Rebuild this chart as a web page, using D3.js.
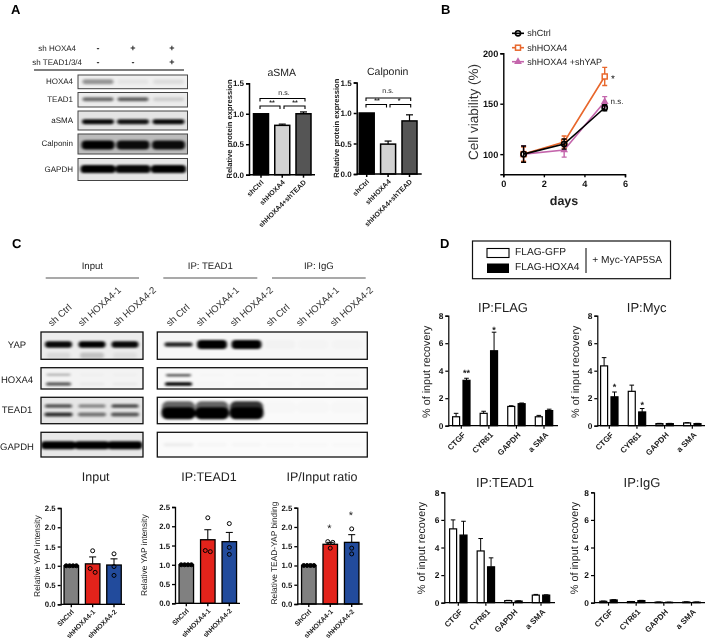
<!DOCTYPE html>
<html><head><meta charset="utf-8">
<script src="https://cdn.jsdelivr.net/npm/d3@7/dist/d3.min.js"></script>
<style>html,body{margin:0;padding:0;background:#fff}svg{display:block;filter:blur(0.35px)}text{font-family:"Liberation Sans",Arial,sans-serif;text-rendering:geometricPrecision}</style>
</head><body><div id="c"></div>
<script>
// ---------- DATA ----------
const groupsA = ["shCtrl","shHOXA4","shHOXA4+shTEAD"];
const asmaValues = [1.0,0.81,1.0];
const asmaErrTop = [1.0,0.83,1.03];
const calponinValues = [1.0,0.49,0.87];
const calponinErrTop = [1.0,0.54,0.97];

const days = [1,3,5];
const viabilityCtrl = [100,110,146];
const viabilityCtrlErr = [8,5,3];
const viabilityHoxa = [100,112,177];
const viabilityHoxaErr = [7,6,9];
const viabilityYap = [100,104,152];
const viabilityYapErr = [8,7,5];
const viabilityNames = ["shCtrl","shHOXA4","shHOXA4 +shYAP"];

const groupsC = ["ShCtrl","shHOXA4-1","shHOXA4-2"];
const inputValues = [1.0,1.05,1.02];
const inputErrTop = [1.0,1.23,1.18];
const inputPoints = [[1,1,1,1],[1.39,0.93,0.83],[1.31,0.98,0.75]];
const ipTeadValues = [1.0,1.65,1.6];
const ipTeadErrTop = [1.0,1.91,1.84];
const ipTeadPoints = [[1,1,1,1],[2.22,1.34,1.37],[2.07,1.45,1.27]];
const ratioValues = [1.0,1.55,1.6];
const ratioErrTop = [1.0,1.6,1.8];
const ratioPoints = [[1,1,1,1],[1.62,1.6,1.45],[1.95,1.45,1.3]];

const genes = ["CTGF","CYR61","GAPDH","a SMA"];
const flagGfp = [0.65,0.9,1.4,0.65];
const flagGfpErr = [0.9,1.05,1.45,0.75];
const flagHox = [3.3,5.45,1.6,1.1];
const flagHoxErr = [3.45,6.8,1.65,1.2];
const mycGfp = [4.35,2.5,0.15,0.2];
const mycGfpErr = [4.95,2.95,0.17,0.22];
const mycHox = [2.1,1.0,0.15,0.15];
const mycHoxErr = [2.45,1.25,0.17,0.17];
const teadGfp = [5.35,3.75,0.15,0.55];
const teadGfpErr = [6.0,4.65,0.17,0.6];
const teadHox = [4.9,2.6,0.12,0.55];
const teadHoxErr = [5.9,3.25,0.14,0.57];
const iggGfp = [0.1,0.08,0.04,0.05];
const iggGfpErr = [0.12,0.09,0.05,0.06];
const iggHox = [0.2,0.15,0.03,0.04];
const iggHoxErr = [0.22,0.17,0.04,0.05];

// western blot band darkness per lane
const lanesA = ["ctrl","hoxa","both"];
const bandHoxa4A = [0.38,0.05,0.08];
const bandTead1A = [0.55,0.6,0.13];
const bandAsmaA = [0.97,0.92,0.97];
const bandCalponinA = [1,0.95,0.95];
const bandGapdhA = [1,0.97,1];

const lanesInput = ["sh Ctrl","sh HOXA4-1","sh HOXA4-2"];
const lanesIp = ["sh Ctrl","sh HOXA4-1","sh HOXA4-2","sh Ctrl","sh HOXA4-1","sh HOXA4-2"];
const yapInput = [0.97,1,0.97];
const yapInputSmear = [0.08,0.18,0.06];
const hoxaInputUpper = [0.25,0.02,0.02];
const hoxaInputLower = [0.62,0.03,0.03];
const teadInputUpper = [0.65,0.42,0.68];
const teadInputLower = [0.8,0.5,0.62];
const gapdhInput = [1,1,1];
const yapIpThin = [0.85,0,0,0,0,0];
const yapIpFull = [0,1,1,0.02,0.01,0.01];
const hoxaIpUpper = [0.65,0.01,0.01,0.01,0.01,0.01];
const hoxaIpLower = [1,0.01,0.01,0.01,0.01,0.01];
const teadIpHalo = [0.6,0.6,0.8,0.01,0.01,0.01];
const teadIpCore = [1,1,1,0,0,0];
const gapdhIp = [0.05,0.02,0.02,0.01,0.01,0.01];

// ---------- DRAWING ----------
const svg = d3.select("#c").append("svg").attr("width",709).attr("height",644).attr("viewBox","0 0 709 644");
const defs = svg.append("defs");
defs.append("filter").attr("id","blur").attr("x","-30%").attr("y","-100%").attr("width","160%").attr("height","300%")
  .append("feGaussianBlur").attr("stdDeviation","1.6 1.1");
let clipId = 0;
const txt = "#222";

function label(x,y,s,size,opt={}){
  const t = svg.append("text").attr("x",x).attr("y",y).text(s).attr("font-size",size)
    .attr("fill",opt.fill||txt).attr("text-anchor",opt.anchor||"middle").attr("dominant-baseline","central");
  if(opt.bold) t.attr("font-weight","bold");
  if(opt.rot!=null) t.attr("transform",`rotate(${opt.rot} ${x} ${y})`);
  return t;
}
function hline(x1,x2,y,w,c){svg.append("line").attr("x1",x1).attr("x2",x2).attr("y1",y).attr("y2",y).attr("stroke",c||"#000").attr("stroke-width",w);}

function blot(box,lanes,centers,bands,bg,borderW){
  const id="cp"+(clipId++);
  defs.append("clipPath").attr("id",id).append("rect").attr("x",box[0]).attr("y",box[1]).attr("width",box[2]-box[0]).attr("height",box[3]-box[1]);
  const x = d3.scaleOrdinal().domain(d3.range(lanes.length)).range(centers);
  const y = d3.scaleLinear().domain([0,1]).range([box[1],box[3]]);
  const g = svg.append("g").attr("clip-path",`url(#${id})`);
  g.append("rect").attr("x",box[0]).attr("y",box[1]).attr("width",box[2]-box[0]).attr("height",box[3]-box[1]).attr("fill",bg||"#f5f5f5");
  bands.forEach(b=>{
    g.append("g").attr("filter","url(#blur)").selectAll("rect").data(b.values).join("rect")
      .attr("x",(d,i)=>x(i)-b.w/2).attr("width",b.w)
      .attr("y",y(b.f)-b.h/2).attr("height",b.h)
      .attr("rx",b.h/2.2).attr("fill","#000").attr("opacity",d=>d);
  });
  svg.append("rect").attr("x",box[0]).attr("y",box[1]).attr("width",box[2]-box[0]).attr("height",box[3]-box[1])
    .attr("fill","none").attr("stroke",borderW>1?"#111":"#444").attr("stroke-width",borderW||1);
}

function axisY(g,y,x0,ticks,fmt,size,w){
  const a = g.append("g").attr("transform",`translate(${x0},0)`)
    .call(d3.axisLeft(y).tickValues(ticks).tickFormat(fmt).tickSize(3).tickPadding(2));
  a.selectAll("text").attr("font-size",size).attr("font-weight","bold").attr("fill","#111").attr("font-family",'"Liberation Sans",Arial,sans-serif');
  a.selectAll("line,path").attr("stroke","#000").attr("stroke-width",w);
  return a;
}

function barPanel(p){
  const g = svg.append("g");
  const y = d3.scaleLinear().domain([0,2.5]).range([p.y0,p.y1]);
  if(p.max) y.domain([0,p.max]);
  const x = d3.scalePoint().domain(p.names).range([p.c0,p.c1]);
  axisY(g,y,p.ax,p.ticks,d3.format(".1f"),p.fs,p.lw);
  g.selectAll(".b").data(p.values).join("rect")
    .attr("x",(d,i)=>x(p.names[i])-p.bw/2).attr("width",p.bw)
    .attr("y",d=>y(d)).attr("height",d=>y(0)-y(d))
    .attr("fill",(d,i)=>p.colors[i]).attr("stroke","#000").attr("stroke-width",p.lw);
  p.err.forEach((e,i)=>{
    if(e<=p.values[i]) return;
    const cx=x(p.names[i]);
    g.append("line").attr("x1",cx).attr("x2",cx).attr("y1",y(p.values[i])).attr("y2",y(e)).attr("stroke","#000").attr("stroke-width",p.lw*0.8);
    g.append("line").attr("x1",cx-p.cap).attr("x2",cx+p.cap).attr("y1",y(e)).attr("y2",y(e)).attr("stroke","#000").attr("stroke-width",p.lw*0.8);
  });
  if(p.points) p.points.forEach((vals,i)=>{
    const s=[...vals].sort((a,b)=>b-a); const cl=[]; 
    s.forEach(v=>{const l=cl[cl.length-1]; if(l&&l[l.length-1]-v<0.12) l.push(v); else cl.push([v]);});
    cl.forEach(c=>c.forEach((v,k)=>{
      g.append("circle").attr("cx",x(p.names[i])+(k-(c.length-1)/2)*(c.length>3?3.4:5)).attr("cy",y(v)).attr("r",p.r)
        .attr("fill",c.length>3?"#000":"none").attr("stroke","#000").attr("stroke-width",1);
    }));
  });
  const xa = g.append("g").attr("transform",`translate(0,${p.y0})`);
  xa.append("line").attr("x1",p.ax).attr("x2",p.xEnd).attr("stroke","#000").attr("stroke-width",p.lw);
  p.names.forEach(n=>{
    xa.append("line").attr("x1",x(n)).attr("x2",x(n)).attr("y1",0).attr("y2",3).attr("stroke","#000").attr("stroke-width",p.lw);
  });
  p.names.forEach(n=>{
    const tx=x(n)+2, ty=p.y0+7;
    svg.append("text").attr("x",tx).attr("y",ty).attr("text-anchor","end").attr("dominant-baseline","central")
      .attr("transform",`rotate(-45 ${tx} ${ty})`).attr("font-size",p.xfs).attr("font-weight","bold").attr("fill","#222").text(n);
  });
  label(p.yl,(p.ylc||(p.y0+p.y1)/2),p.ylabel,p.yfs,{rot:-90,bold:p.ybold});
  label(p.tx,p.ty,p.title,p.tfs);
}

function dualPanel(p){
  const g = svg.append("g");
  const y = d3.scaleLinear().domain([0,8]).range([p.y0,p.y1]);
  const x = d3.scalePoint().domain(genes).range([p.c0,p.c1]);
  const off = 5.2, bw = 7;
  axisY(g,y,p.ax,[0,2,4,6,8],d3.format("d"),8.4,1.2);
  [[p.gfp,p.gfpE,-off,"#fff"],[p.hox,p.hoxE,off,"#000"]].forEach(([v,e,o,c])=>{
    g.selectAll(null).data(v).join("rect")
      .attr("x",(d,i)=>x(genes[i])+o-bw/2).attr("width",bw)
      .attr("y",d=>y(d)).attr("height",d=>y(0)-y(d))
      .attr("fill",(d,i)=>(p.grayAt&&p.grayAt.includes(i)&&o<0)?"#777":c).attr("stroke","#000").attr("stroke-width",1.2);
    e.forEach((t,i)=>{
      const cx=x(genes[i])+o;
      g.append("line").attr("x1",cx).attr("x2",cx).attr("y1",y(v[i])).attr("y2",y(t)).attr("stroke","#000").attr("stroke-width",1);
      g.append("line").attr("x1",cx-2.3).attr("x2",cx+2.3).attr("y1",y(t)).attr("y2",y(t)).attr("stroke","#000").attr("stroke-width",1);
    });
  });
  const xa=g.append("g").attr("transform",`translate(0,${p.y0})`);
  xa.append("line").attr("x1",p.ax).attr("x2",p.xEnd).attr("stroke","#000").attr("stroke-width",1.2);
  genes.forEach(n=>{
    xa.append("line").attr("x1",x(n)).attr("x2",x(n)).attr("y1",0).attr("y2",3).attr("stroke","#000").attr("stroke-width",1.2);
    const tx=x(n)+3, ty=p.y0+8;
    svg.append("text").attr("x",tx).attr("y",ty).attr("text-anchor","end").attr("dominant-baseline","central")
      .attr("transform",`rotate(-45 ${tx} ${ty})`).attr("font-size",8).attr("font-weight","bold").attr("fill","#222").text(n);
  });
  label(p.yl,p.ylc,"% of input recovery",10.8,{rot:-90});
  label(p.tx,p.ty,p.title,p.tfs||13);
  (p.stars||[]).forEach(s=>label(x(genes[s[0]])+s[1]*off,y(s[2])+1.5,s[3],9,{bold:true}));
}

function bracket(x1,x2,y,drop){
  svg.append("path").attr("d",`M${x1},${y+drop}V${y}H${x2}V${y+drop}`).attr("fill","none").attr("stroke","#000").attr("stroke-width",1.1);
}

// Panel letters
[["A",11,9.5],["B",441,9.5],["C",12,243.5],["D",440,243.5]].forEach(d=>label(d[1],d[2],d[0],13,{bold:true,anchor:"start",fill:"#000"}));

// ---- Panel A blots ----
label(76,48,"sh HOXA4",8,{anchor:"end"});
label(82,62,"sh TEAD1/3/4",8,{anchor:"end"});
[[98,48,"-"],[133,48,"+"],[172,48,"+"],[98,62,"-"],[133,62,"-"],[172,62,"+"]].forEach(d=>label(d[0],d[1],d[2],9,{bold:true}));
hline(34,184,70,1.2);
const cA=[98,133,168.5];
const rowsA=[["HOXA4",[78,75,187.5,88.7]],["TEAD1",[78,92.5,187.5,107]],["aSMA",[78,111,187.5,130]],["Calponin",[78,134,187.5,154]],["GAPDH",[78,158.5,187.5,180.5]]];
rowsA.forEach(r=>label(73,(r[1][1]+r[1][3])/2-0.5,r[0],8,{anchor:"end"}));
blot(rowsA[0][1],lanesA,cA,[{f:.5,h:5,w:31,values:bandHoxa4A}],"#f0f0f0");
blot(rowsA[1][1],lanesA,cA,[{f:.46,h:4,w:31,values:bandTead1A}],"#ececec");
blot(rowsA[2][1],lanesA,cA,[{f:.56,h:5,w:32,values:bandAsmaA}],"#e4e4e4");
blot(rowsA[3][1],lanesA,cA,[{f:.55,h:9,w:33,values:bandCalponinA}],"#bcbcbc");
blot(rowsA[4][1],lanesA,cA,[{f:.48,h:8,w:35,values:bandGapdhA}],"#e6e6e6");

// ---- Panel A bars ----
const colorsA=["#000","#d2d2d2","#555"];
barPanel({names:groupsA,values:asmaValues,err:asmaErrTop,colors:colorsA,max:1.5,ticks:[0,0.5,1,1.5],y0:174.7,y1:83.3,ax:249,xEnd:315,c0:261,c1:303.5,bw:15,lw:1.5,cap:3.5,fs:8,xfs:7,yl:229.5,ylabel:"Relative protein expression",yfs:7.6,ybold:true,tx:281.7,ty:72.5,title:"aSMA",tfs:10.5});
barPanel({names:groupsA,values:calponinValues,err:calponinErrTop,colors:colorsA,max:1.5,ticks:[0,0.5,1,1.5],y0:174,y1:82.5,ax:356.7,xEnd:421.7,c0:366.7,c1:409.5,bw:15,lw:1.5,cap:3.5,fs:8,xfs:7,yl:336,ylabel:"Relative protein expression",yfs:7.6,ybold:true,tx:387.7,ty:72,title:"Calponin",tfs:10.5});
bracket(260,305,98.5,3); bracket(260,280,106,3); bracket(284,305,106,3);
label(284,93,"n.s.",7); label(272,103,"**",7,{bold:true}); label(295,103,"**",7,{bold:true});
bracket(366,410.7,98,3); bracket(366,386.5,104.5,3); bracket(390,410.7,104.5,3);
label(388,91.5,"n.s.",7); label(377,101.5,"**",7,{bold:true}); label(399,101.5,"*",7,{bold:true});

// ---- Panel B ----
(function(){
  const x=d3.scaleLinear().domain([0,6]).range([503.3,625]);
  const y=d3.scaleLinear().domain([80,200]).range([174.3,53.3]);
  const g=svg.append("g");
  axisY(g,y,503.3,[100,150,200],d3.format("d"),9.2,1.4);
  const xa=g.append("g").attr("transform","translate(0,174.3)").call(d3.axisBottom(x).tickValues([0,2,4,6]).tickSize(3).tickPadding(3).tickFormat(d3.format("d")));
  xa.selectAll("text").attr("font-size",9.2).attr("font-weight","bold").attr("fill","#111").attr("font-family",'"Liberation Sans",Arial,sans-serif');
  xa.selectAll("line,path").attr("stroke","#000").attr("stroke-width",1.4);
  const line=d3.line().x((d,i)=>x(days[i])).y(d=>y(d));
  const series=[[viabilityYap,viabilityYapErr,"#c466ac","tri"],[viabilityHoxa,viabilityHoxaErr,"#e8672c","sq"],[viabilityCtrl,viabilityCtrlErr,"#000","cir"]];
  function marker(sel,cx,cy,kind,c){
    if(kind==="cir") sel.append("circle").attr("cx",cx).attr("cy",cy).attr("r",2.6).attr("fill","none").attr("stroke",c).attr("stroke-width",1.6);
    else if(kind==="sq") sel.append("rect").attr("x",cx-2.5).attr("y",cy-2.5).attr("width",5).attr("height",5).attr("fill","#fff").attr("stroke",c).attr("stroke-width",1.5);
    else sel.append("path").attr("d",d3.symbol(d3.symbolTriangle,26)()).attr("transform",`translate(${cx},${cy})`).attr("fill",c);
  }
  series.forEach(([v,e,c,k])=>{
    g.append("path").attr("d",line(v)).attr("fill","none").attr("stroke",c).attr("stroke-width",1.6);
    v.forEach((d,i)=>{
      const cx=x(days[i]);
      g.append("path").attr("d",`M${cx-2.5},${y(d+e[i])}H${cx+2.5}M${cx},${y(d+e[i])}V${y(d-e[i])}M${cx-2.5},${y(d-e[i])}H${cx+2.5}`).attr("fill","none").attr("stroke",c).attr("stroke-width",1.4);
      marker(g,cx,y(d),k,c);
    });
  });
  label(564,201,"days",12.5,{bold:true});
  label(473,112,"Cell viability (%)",13.5,{rot:-90,fill:"#333"});
  label(613,79,"*",10);
  label(617,101.5,"n.s.",8);
  const ly=[33.3,47.7,61.7], lk=[["#000","cir"],["#e8672c","sq"],["#c466ac","tri"]];
  viabilityNames.forEach((n,i)=>{
    g.append("line").attr("x1",512).attr("x2",524).attr("y1",ly[i]).attr("y2",ly[i]).attr("stroke",lk[i][0]).attr("stroke-width",1.6);
    marker(g,518,ly[i],lk[i][1],lk[i][0]);
    label(527.3,ly[i],n,9,{anchor:"start"});
  });
})();

// ---- Panel C blots ----
[["Input",45.7,139],["IP: TEAD1",163.3,257.3],["IP: IgG",272,365.7]].forEach(d=>{
  label((d[1]+d[2])/2,266.7,d[0],9.6);
  hline(d[1],d[2],278,1.2,"#555");
});
[[50,lanesInput[0]],[80,lanesInput[1]],[115,lanesInput[2]],[168,lanesIp[0]],[198,lanesIp[1]],[232,lanesIp[2]],[268,lanesIp[3]],[298,lanesIp[4]],[332,lanesIp[5]]].forEach(d=>{
  label(d[0],325,d[1],9.6,{anchor:"start",rot:-42,fill:"#333"});
});
const rowsC=[["YAP",332,359.3,345.7],["HOXA4",367.7,389,380],["TEAD1",397.3,423.7,410],["GAPDH",432.3,457,447]];
rowsC.forEach(r=>label(17,r[3],r[0],9.5));
const cIn=[58.5,92,125], cIp=[178.5,212,246.5,280,313,347];
const boxL=r=>[41,r[1],143,r[2]], boxR=r=>[157.3,r[1],367.3,r[2]];
blot(boxL(rowsC[0]),lanesInput,cIn,[{f:.86,h:6,w:24,values:yapInputSmear},{f:.46,h:6.5,w:27,values:yapInput}],"#ededed",1.3);
blot(boxL(rowsC[1]),lanesInput,cIn,[{f:.33,h:2.5,w:24,values:hoxaInputUpper},{f:.77,h:3.5,w:25,values:hoxaInputLower}],"#f3f3f3",1.3);
blot(boxL(rowsC[2]),lanesInput,cIn,[{f:.33,h:3.5,w:27,values:teadInputUpper},{f:.65,h:4,w:28,values:teadInputLower}],"#e6e6e6",1.3);
blot(boxL(rowsC[3]),lanesInput,cIn,[{f:.52,h:8,w:35,values:gapdhInput}],"#e8e8e8",1.3);
blot(boxR(rowsC[0]),lanesIp,cIp,[{f:.46,h:4.5,w:28,values:yapIpThin},{f:.46,h:9,w:30,values:yapIpFull}],"#f7f7f7",1.3);
blot(boxR(rowsC[1]),lanesIp,cIp,[{f:.35,h:2.5,w:25,values:hoxaIpUpper},{f:.77,h:3.5,w:27,values:hoxaIpLower}],"#f8f8f8",1.3);
blot(boxR(rowsC[2]),lanesIp,cIp,[{f:.38,h:12,w:33,values:teadIpHalo},{f:.6,h:12,w:34,values:teadIpCore}],"#fafafa",1.3);
blot(boxR(rowsC[3]),lanesIp,cIp,[{f:.5,h:4,w:30,values:gapdhIp}],"#fbfbfb",1.3);

// ---- Panel C bars ----
const colorsC=["#808080","#e3231b","#224b9c"];
const cCommon={names:groupsC,colors:colorsC,ticks:[0,0.5,1,1.5,2,2.5],bw:14.5,lw:1.3,cap:3.5,fs:7.8,xfs:6.8,yfs:8.4,r:2,tfs:12.5};
barPanel({...cCommon,values:inputValues,err:inputErrTop,points:inputPoints,y0:604.3,y1:508,ax:60.7,xEnd:125,c0:71.3,c1:114,yl:37.5,ylabel:"Relative YAP intensity",tx:95.7,ty:477,title:"Input"});
barPanel({...cCommon,values:ipTeadValues,err:ipTeadErrTop,points:ipTeadPoints,y0:603.3,y1:507,ax:175,xEnd:240,c0:186.3,c1:229.3,yl:144,ylabel:"Relative YAP intensity",tx:209,ty:477,title:"IP:TEAD1"});
barPanel({...cCommon,values:ratioValues,err:ratioErrTop,points:ratioPoints,y0:604,y1:507.7,ax:297.3,xEnd:362.7,c0:308.8,c1:351.7,yl:274.3,ylabel:"Relative TEAD-YAP binding",ylc:553,tx:322,ty:477,title:"IP/Input ratio"});
label(329.5,529,"*",11); label(351,516,"*",11);

// ---- Panel D ----
svg.append("rect").attr("x",472.5).attr("y",241).attr("width",198).attr("height",37.7).attr("fill","#fff").attr("stroke","#111").attr("stroke-width",1.2);
svg.append("rect").attr("x",487).attr("y",248.5).attr("width",22).attr("height",9).attr("fill","#fff").attr("stroke","#000").attr("stroke-width",1.1);
svg.append("rect").attr("x",487).attr("y",263.5).attr("width",22).attr("height",9.5).attr("fill","#000");
label(515,252,"FLAG-GFP",10.2,{anchor:"start"});
label(515,267.7,"FLAG-HOXA4",10.2,{anchor:"start"});
svg.append("line").attr("x1",586).attr("x2",586).attr("y1",248).attr("y2",273).attr("stroke","#000").attr("stroke-width",1);
label(592.3,260,"+ Myc-YAP5SA",10.2,{anchor:"start"});

dualPanel({title:"IP:FLAG",gfp:flagGfp,gfpE:flagGfpErr,hox:flagHox,hoxE:flagHoxErr,y0:425.7,y1:315.7,ax:448.3,xEnd:558,c0:461.3,c1:544,yl:426.7,ylc:371.7,tx:503,ty:307.5,
  stars:[[0,1,3.95,"**"],[1,1,7.1,"*"]]});
dualPanel({title:"IP:Myc",gfp:mycGfp,gfpE:mycGfpErr,hox:mycHox,hoxE:mycHoxErr,y0:425.7,y1:315.7,ax:597.3,xEnd:705,c0:609.3,c1:692.3,yl:576,ylc:371.7,tx:646.7,ty:307.5,grayAt:[2],
  stars:[[0,1,2.9,"*"],[1,1,1.65,"*"]]});
dualPanel({title:"IP:TEAD1",gfp:teadGfp,gfpE:teadGfpErr,hox:teadHox,hoxE:teadHoxErr,y0:602.7,y1:492.3,ax:444.3,xEnd:555,c0:458.3,c1:541,yl:421.7,ylc:548,tx:505,ty:482});
dualPanel({title:"IP:IgG",gfp:iggGfp,gfpE:iggGfpErr,hox:iggHox,hoxE:iggHoxErr,y0:602.7,y1:492.3,ax:594,xEnd:705,c0:608.5,c1:691.5,yl:575,ylc:548,tx:642,ty:482});
</script></body></html>
